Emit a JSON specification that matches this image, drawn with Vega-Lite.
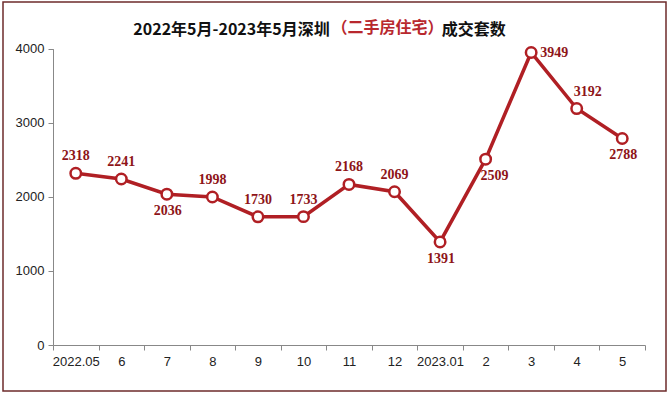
{
  "$schema": "https://vega.github.io/schema/vega-lite/v6.json",
  "width": 663,
  "height": 389,
  "autosize": {"type": "none"},
  "padding": {"left": 3, "top": 2, "right": 5, "bottom": 3},
  "background": "white",
  "title": {
    "text": "2022年5月-2023年5月深圳　　　　　　　成交套数",
    "anchor": "middle",
    "frame": "group",
    "dx": -15,
    "offset": -36,
    "font": "Noto Sans CJK SC",
    "fontSize": 16,
    "fontWeight": "bold",
    "color": "#111111"
  },
  "config": {
    "view": {"stroke": "#6E2B2B", "strokeWidth": 1.5},
    "axis": {
      "domainColor": "#888888",
      "tickColor": "#888888",
      "labelColor": "#222222",
      "labelFont": "Liberation Sans",
      "labelFontSize": 13,
      "grid": false,
      "tickSize": 5
    }
  },
  "data": {
    "values": [
      {"m": "2022.05", "v": 2318},
      {"m": "6", "v": 2241},
      {"m": "7", "v": 2036},
      {"m": "8", "v": 1998},
      {"m": "9", "v": 1730},
      {"m": "10", "v": 1733},
      {"m": "11", "v": 2168},
      {"m": "12", "v": 2069},
      {"m": "2023.01", "v": 1391},
      {"m": "2", "v": 2509},
      {"m": "3", "v": 3949},
      {"m": "4", "v": 3192},
      {"m": "5", "v": 2788}
    ]
  },
  "encoding": {
    "x": {
      "field": "m",
      "type": "nominal",
      "sort": null,
      "scale": {"type": "band", "range": [50, 642], "paddingInner": 0, "paddingOuter": 0},
      "axis": {
        "title": null,
        "labelAngle": 0,
        "tickBand": "extent",
        "offset": -46,
        "labelPadding": 5
      }
    },
    "y": {
      "field": "v",
      "type": "quantitative",
      "scale": {"domain": [0, 4000], "range": [343, 46.7], "nice": false},
      "axis": {
        "title": "（二手房住宅）",
        "titleAngle": 0,
        "titleX": 334,
        "titleY": 25,
        "titleAlign": "center",
        "titleBaseline": "middle",
        "titleFont": "Noto Sans CJK SC",
        "titleFontSize": 16,
        "titleFontWeight": "bold",
        "titleColor": "#B8282E",
        "values": [0, 1000, 2000, 3000, 4000],
        "format": "d",
        "offset": -50,
        "labelPadding": 4
      }
    }
  },
  "layer": [
    {"mark": {"type": "line", "color": "#B01F24", "strokeWidth": 3.5}},
    {"mark": {"type": "point", "shape": "circle", "filled": true, "fill": "white", "stroke": "#B01F24", "strokeWidth": 2.5, "size": 110, "opacity": 1}},
    {
      "transform": [{"filter": {"field": "m", "oneOf": ["2022.05", "6", "8", "9", "10", "11", "12"]}}],
      "mark": {"type": "text", "dy": -17, "font": "Liberation Serif", "fontWeight": "bold", "fontSize": 14, "color": "#8E1418"},
      "encoding": {"text": {"field": "v", "type": "quantitative"}}
    },
    {
      "transform": [{"filter": {"field": "m", "oneOf": ["4"]}}],
      "mark": {"type": "text", "dy": -17, "dx": 11, "font": "Liberation Serif", "fontWeight": "bold", "fontSize": 14, "color": "#8E1418"},
      "encoding": {"text": {"field": "v", "type": "quantitative"}}
    },
    {
      "transform": [{"filter": {"field": "m", "oneOf": ["7", "2023.01", "5"]}}],
      "mark": {"type": "text", "dy": 17, "dx": 1, "font": "Liberation Serif", "fontWeight": "bold", "fontSize": 14, "color": "#8E1418"},
      "encoding": {"text": {"field": "v", "type": "quantitative"}}
    },
    {
      "transform": [{"filter": {"field": "m", "oneOf": ["2"]}}],
      "mark": {"type": "text", "dy": 17, "dx": 9, "font": "Liberation Serif", "fontWeight": "bold", "fontSize": 14, "color": "#8E1418"},
      "encoding": {"text": {"field": "v", "type": "quantitative"}}
    },
    {
      "transform": [{"filter": {"field": "m", "oneOf": ["3"]}}],
      "mark": {"type": "text", "align": "left", "dx": 9, "dy": 1, "font": "Liberation Serif", "fontWeight": "bold", "fontSize": 14, "color": "#8E1418"},
      "encoding": {"text": {"field": "v", "type": "quantitative"}}
    }
  ]
}
